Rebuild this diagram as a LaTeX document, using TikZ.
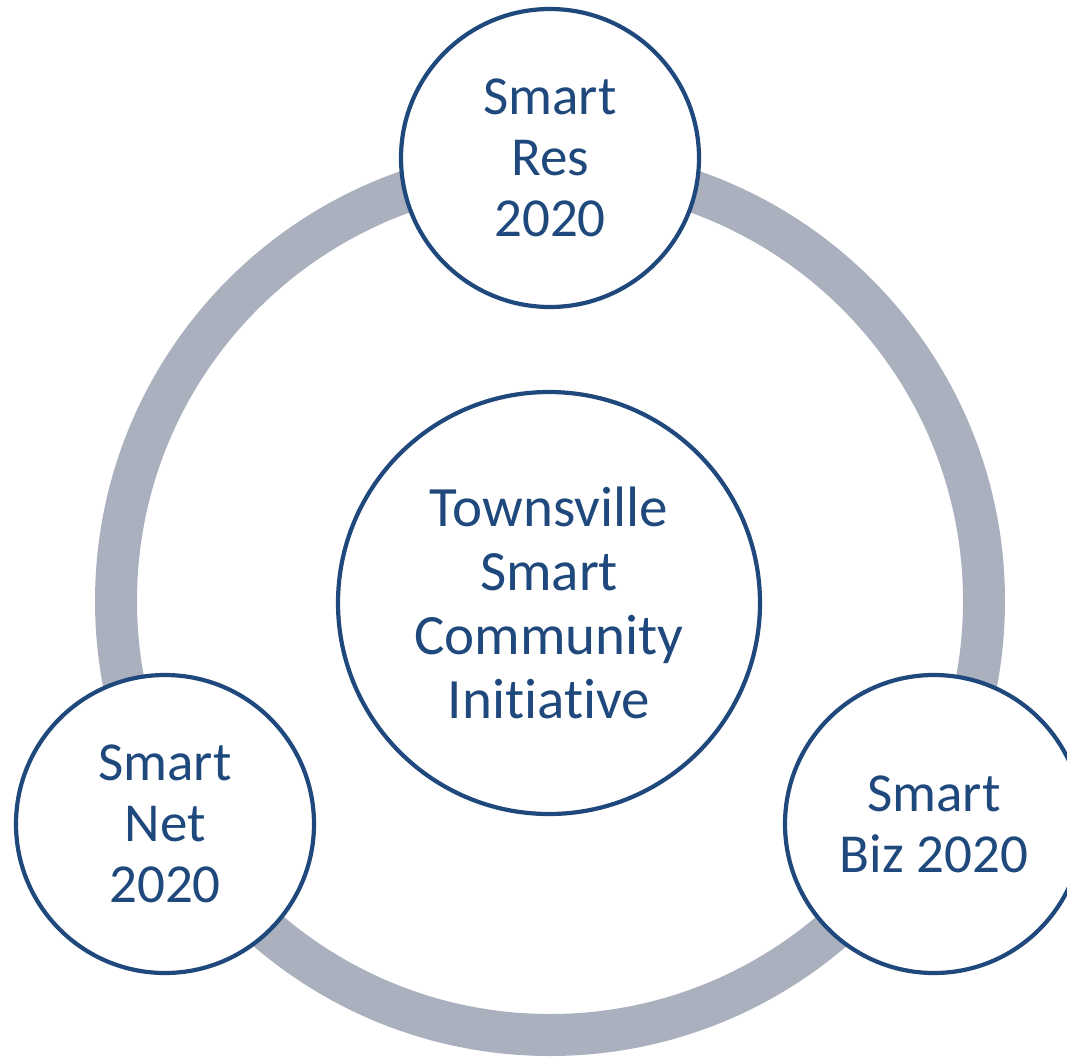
\documentclass[tikz,border=0pt]{standalone}
\usepackage{fontspec}
\setmainfont[Ligatures=NoCommon]{Carlito}
\definecolor{ringgrey}{HTML}{ABB0BE}
\definecolor{navy}{HTML}{1F497D}
\begin{document}
\begin{tikzpicture}[x=1pt,y=-1pt,
  bubble/.style={circle,draw=navy,line width=4.2pt,fill=white,text=navy,
    inner sep=0pt,align=center},
  small/.style={bubble,minimum size=298pt,font=\fontsize{55}{61}\selectfont},
  big/.style={bubble,minimum size=422pt,font=\fontsize{57}{64}\selectfont}]
  \useasboundingbox (0,0) rectangle (1067,1057);
  \clip (0,0) rectangle (1067,1057);
  \coordinate (ringc) at (550,601);
  \draw[ringgrey,line width=42pt] (ringc) circle[radius=434];
  \node[big] (core) at (549,603) {Townsville\\Smart\\Community\\Initiative};
  \node[small] (res) at (550,158) {Smart\\Res\\2020};
  \node[small] (net) at (165,824) {Smart\\Net\\2020};
  \node[small] (biz) at (934,824) {Smart\\Biz 2020};
\end{tikzpicture}
\end{document}
